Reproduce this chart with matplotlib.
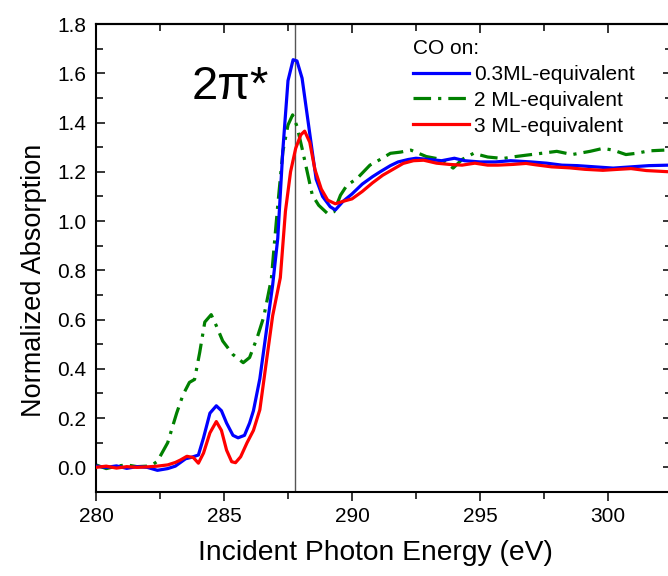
import matplotlib
matplotlib.use("Agg")
import matplotlib.pyplot as plt
from matplotlib.ticker import MultipleLocator

plt.rcParams['font.family'] = ['Liberation Sans', 'DejaVu Sans']

# ---- data ----
energy_03 = [280.0, 280.4, 280.8, 281.2, 281.6, 282.0, 282.4, 282.8, 283.1, 283.3, 283.5, 283.7,
             284.0, 284.2, 284.45, 284.7, 284.9, 285.1, 285.35, 285.55, 285.8, 286.0, 286.15, 286.4,
             286.65, 286.9, 287.1, 287.3, 287.5, 287.7, 287.85, 288.05, 288.25, 288.45, 288.6, 288.85,
             289.15, 289.35, 289.65, 290.0, 290.4, 290.8, 291.1, 291.5, 291.8, 292.2, 292.5, 293.0,
             293.5, 294.0, 294.4, 295.0, 295.6, 296.2, 297.0, 297.6, 298.2, 298.8, 299.5, 300.2,
             300.9, 301.6, 302.4]
absorb_03 = [0.005, 0.0, 0.006, -0.004, 0.003, 0.0, -0.012, -0.005, 0.005, 0.02, 0.035, 0.04,
             0.05, 0.12, 0.22, 0.25, 0.23, 0.18, 0.13, 0.12, 0.13, 0.18, 0.23, 0.36,
             0.55, 0.74, 0.93, 1.29, 1.57, 1.655, 1.65, 1.58, 1.43, 1.28, 1.17, 1.10,
             1.058, 1.045, 1.08, 1.11, 1.15, 1.18, 1.20, 1.225, 1.24, 1.25, 1.255, 1.25,
             1.245, 1.255, 1.245, 1.24, 1.24, 1.245, 1.24, 1.235, 1.227, 1.225, 1.22, 1.215,
             1.22, 1.225, 1.227]

energy_2 = [280.0, 280.4, 280.8, 281.2, 281.6, 282.0, 282.2, 282.4, 282.8, 283.15, 283.4, 283.65,
            283.85, 284.05, 284.25, 284.5, 284.7, 284.95, 285.35, 285.75, 286.0, 286.3, 286.55,
            286.85, 286.95, 287.1, 287.3, 287.5, 287.68, 287.85, 288.05, 288.25, 288.45, 288.7,
            289.05, 289.3, 289.55, 289.8, 290.2, 290.7, 291.1, 291.5, 291.9, 292.3, 292.9, 293.5,
            293.95, 294.3, 294.75, 295.3, 295.9, 296.4, 296.85, 297.4, 298.0, 298.6, 299.3, 299.8,
            300.2, 300.7, 301.1, 301.6, 302.2]
absorb_2 = [0.01, -0.005, 0.005, 0.01, 0.003, 0.005, 0.01, 0.025, 0.1, 0.22, 0.295, 0.345,
            0.357, 0.466, 0.59, 0.62, 0.575, 0.513, 0.458, 0.425, 0.446, 0.528, 0.61,
            0.765, 0.887, 1.064, 1.283, 1.39, 1.431, 1.385, 1.295, 1.2, 1.105, 1.064,
            1.03, 1.038, 1.105, 1.145, 1.173, 1.227, 1.25, 1.275, 1.28, 1.288, 1.262, 1.25,
            1.215, 1.25, 1.275, 1.26, 1.254, 1.262, 1.268, 1.275, 1.283, 1.27, 1.283, 1.295,
            1.288, 1.27, 1.275, 1.285, 1.288]

energy_3 = [280.0, 280.4, 280.8, 281.2, 281.6, 282.0, 282.4, 282.8, 283.1, 283.3, 283.55, 283.8,
            284.0, 284.2, 284.45, 284.7, 284.9, 285.1, 285.3, 285.45, 285.65, 285.9, 286.15, 286.4,
            286.65, 286.9, 287.2, 287.4, 287.6, 287.8, 288.0, 288.15, 288.35, 288.55, 288.8, 289.05,
            289.35, 289.65, 290.0, 290.4, 290.8, 291.2, 291.6, 292.0, 292.4, 292.8, 293.3, 293.8,
            294.3, 294.8, 295.3, 295.7, 296.3, 296.8, 297.2, 297.8, 298.5, 299.1, 299.8, 300.4,
            300.9, 301.5, 302.4]
absorb_3 = [0.0, 0.005, -0.003, 0.003, 0.0, 0.002, 0.005, 0.01, 0.02, 0.03, 0.045, 0.04,
            0.017, 0.058, 0.14, 0.186, 0.15, 0.07, 0.023, 0.019, 0.043, 0.10, 0.15, 0.234,
            0.425, 0.615, 0.77, 1.04, 1.20, 1.295, 1.35, 1.365, 1.32, 1.21, 1.13, 1.085,
            1.07, 1.08, 1.09, 1.12, 1.155, 1.186, 1.21, 1.234, 1.245, 1.247, 1.235, 1.23,
            1.227, 1.235, 1.227, 1.227, 1.23, 1.234, 1.228, 1.22, 1.216, 1.21, 1.206, 1.21,
            1.213, 1.205, 1.20]

series_labels = ["0.3ML-equivalent", "2 ML-equivalent", "3 ML-equivalent"]
legend_title = "CO on:"
peak_energy = 287.77
peak_label = "2\u03c0*"
x_ticks = [280, 285, 290, 295, 300]
y_ticks = [0.0, 0.2, 0.4, 0.6, 0.8, 1.0, 1.2, 1.4, 1.6, 1.8]

# ---- figure ----
fig = plt.figure(figsize=(6.68, 5.76), dpi=100)
ax = fig.add_axes([96/668, (576-492)/576, (672-96)/668, (492-24)/576])

lw = 2.3
ax.plot(energy_03, absorb_03, color='#0000ff', lw=lw, label=series_labels[0], zorder=3)
ax.plot(energy_2, absorb_2, color='#008000', lw=lw, linestyle=(0, (5.5, 2.2, 1.0, 2.2)),
        label=series_labels[1], zorder=2)
ax.plot(energy_3, absorb_3, color='#ff0000', lw=lw, label=series_labels[2], zorder=4)

ax.axvline(peak_energy, color='#555555', lw=1.0, zorder=1)

ax.text(283.75, 1.495, peak_label, fontsize=34, ha='left', va='baseline')

ax.set_xlim(280, 302.5)
ax.set_ylim(-0.1, 1.8)
ax.set_xticks(x_ticks)
ax.set_yticks(y_ticks)
ax.set_yticklabels([f"{v:.1f}" for v in y_ticks])
ax.xaxis.set_minor_locator(MultipleLocator(2.5))
ax.yaxis.set_minor_locator(MultipleLocator(0.1))

ax.tick_params(axis='x', which='both', direction='out', top=False, labelsize=15, width=1.1, pad=4)
ax.tick_params(axis='x', which='major', length=6.5)
ax.tick_params(axis='x', which='minor', length=4.8)
ax.tick_params(axis='y', which='both', direction='in', left=True, right=True, labelsize=15,
               width=1.1, pad=7)
ax.tick_params(axis='y', which='major', length=6.5)
ax.tick_params(axis='y', which='minor', length=4.8)

sec = ax.secondary_xaxis('top')
sec.set_xticks(x_ticks)
sec.xaxis.set_minor_locator(MultipleLocator(2.5))
sec.tick_params(axis='x', which='both', direction='in', labeltop=False, width=1.1)
sec.tick_params(axis='x', which='major', length=6.5)
sec.tick_params(axis='x', which='minor', length=4.8)
sec.spines['top'].set_linewidth(1.5)

for s in ax.spines.values():
    s.set_linewidth(1.5)

ax.set_xlabel("Incident Photon Energy (eV)", fontsize=20.3)
ax.set_ylabel("Normalized Absorption", fontsize=19.5)
# label positions in axes fraction (derived from figure pixels)
ax.xaxis.set_label_coords((375.5 - 96) / 576, (492 - 566) / 468)
ax.yaxis.set_label_coords((47 - 96) / 576, (492 - 280) / 468)
ax.xaxis.label.set_va('bottom')
ax.yaxis.label.set_va('bottom')

leg = ax.legend(title=legend_title, frameon=False, fontsize=15, title_fontsize=15,
                loc='upper left', bbox_to_anchor=(413/668, (576-39)/576),
                bbox_transform=fig.transFigure, borderpad=0, borderaxespad=0,
                handlelength=2.7, handletextpad=0.25, labelspacing=0.33)
leg._legend_box.align = "left"

fig.savefig("out.png", dpi=100)
